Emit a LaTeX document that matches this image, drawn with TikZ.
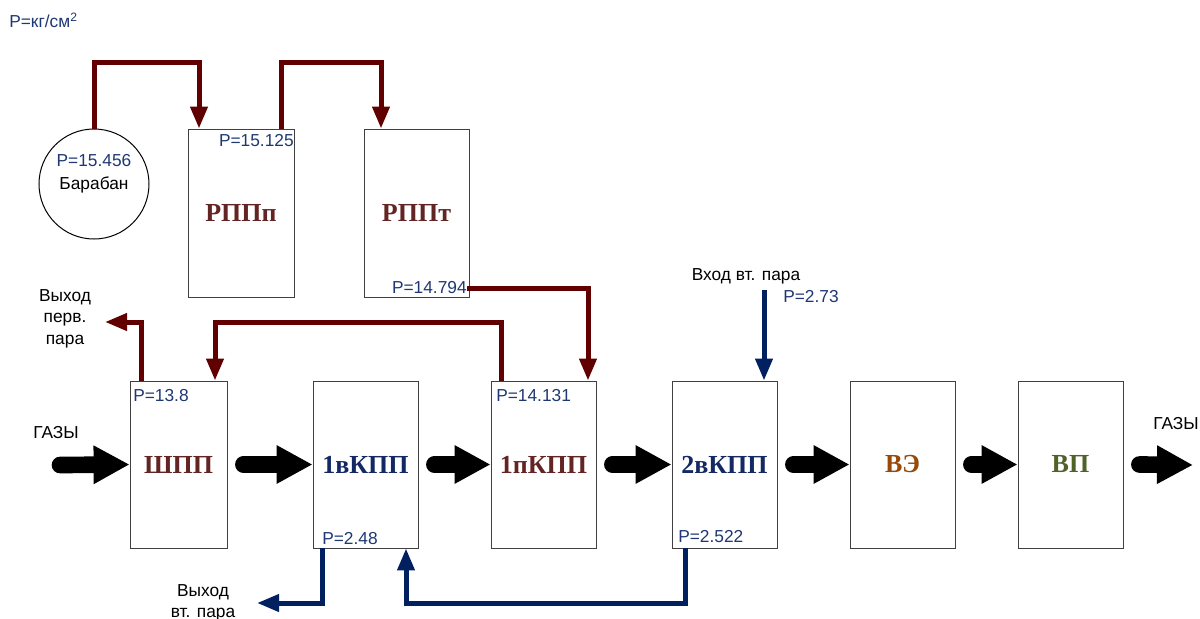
\documentclass[tikz,border=0pt]{standalone}
\usepackage{fontspec}
\setmainfont{Liberation Sans}
\newfontfamily\serifbf{Liberation Serif}
\usetikzlibrary{arrows.meta,calc}
\definecolor{pblue}{RGB}{31,56,115}
\definecolor{steamred}{RGB}{96,0,0}
\definecolor{steamblue}{RGB}{0,32,96}
\definecolor{lblbrown}{RGB}{99,37,35}
\definecolor{lblnavy}{RGB}{20,40,100}
\definecolor{lblorange}{RGB}{152,72,7}
\definecolor{lblgreen}{RGB}{79,98,40}
\tikzset{
  heater/.style={draw=black!75, line width=0.6pt, minimum width=78.75pt, minimum height=125.25pt, inner sep=0pt, font=\serifbf\bfseries\fontsize{19.5}{22}\selectfont},
  plabel/.style={text=pblue, inner sep=0pt, font=\fontsize{13}{15}\selectfont},
  note/.style={inner sep=0pt, align=center, font=\fontsize{13}{16}\selectfont},
  redflow/.style={draw=steamred, line width=3.75pt, -{Triangle[width=12.5pt,length=16.5pt]}},
  blueflow/.style={draw=steamblue, line width=3.75pt, -{Triangle[width=12.5pt,length=16.5pt]}},
  gas/.style={line width=12.5pt, line cap=round, -{Triangle[width=27pt,length=27pt]}}
}

\begin{document}
\begin{tikzpicture}[x=0.75pt,y=-0.75pt]
\useasboundingbox (0,0) rectangle (1200,618);

\node[plabel, anchor=west] (unit) at (9,20) {P=кг/см\textsuperscript{2}};

\node[draw, circle, line width=0.75pt, minimum size=82.5pt, inner sep=0pt] (drum) at (94,184) {};
\node[heater, minimum width=79.5pt, minimum height=126pt, text=lblbrown] (rppp) at (241,213) {РППп};
\node[heater, minimum height=126pt, text=lblbrown] (rppt) at (416.5,213) {РППт};

\node[heater, minimum width=72.75pt, text=lblbrown] (shpp) at (178.5,464.5) {ШПП};
\node[heater, text=lblnavy] (kpp1v) at (365.5,464.5) {1вКПП};
\node[heater, text=lblbrown] (kpp1p) at (543.5,464.5) {1пКПП};
\node[heater, text=lblnavy] (kpp2v) at (724.5,464.5) {2вКПП};
\node[heater, text=lblorange] (ve) at (902.5,464.5) {ВЭ};
\node[heater, text=lblgreen] (vp) at (1070.5,464.5) {ВП};

\node[plabel] (p1) at (94,161) {P=15.456};
\node[note] (drumlbl) at (94,185) {Барабан};
\node[plabel, anchor=east] (p2) at (294,141) {P=15.125};
\node[plabel, anchor=east] (p3) at (467,288) {P=14.794};
\node[plabel, anchor=west] (p5) at (133,396) {P=13.8};
\node[plabel, anchor=west] (p6) at (496,396) {P=14.131};
\node[plabel, anchor=west] (p7) at (322,539) {P=2.48};
\node[plabel, anchor=west] (p8) at (678,537) {P=2.522};
\node[plabel, anchor=west] (p9) at (783,297) {P=2.73};

\node[note] (outp) at (65,318.5) {Выход\\перв.\\пара};
\node[note] (outv) at (203,603) {Выход\\вт. пара};
\node[note] (inlbl) at (746,276) {Вход вт. пара};
\node[note] (gasl) at (56,433) {ГАЗЫ};
\node[note] (gasr) at (1176,424) {ГАЗЫ};

\coordinate (outperv) at (105,322);
\coordinate (inv) at (764,290);
\coordinate (outvt) at (257,603);
\coordinate (gasin) at (60,465);
\coordinate (gasout) at (1193,465);

\draw[redflow] (drum.north) |- (199,62) -- (rppp.north -| 199,0);
\draw[redflow] (rppp.north -| 281,0) |- (381,62) -- (rppt.north -| 381,0);
\draw[redflow] (p3.east) -| (kpp1p.north -| 588,0);
\draw[redflow] (kpp1p.north -| 501,0) |- (215,322) -- (shpp.north -| 215,0);
\draw[redflow] (shpp.north -| 141,0) |- (outperv);

\draw[blueflow] (inv) -- (kpp2v.north -| 764,0);
\draw[blueflow] (kpp1v.south -| 322,0) |- (outvt);
\draw[blueflow] (kpp2v.south -| 685,0) |- (406,603) -- (kpp1v.south -| 406,0);

\draw[gas] (gasin) -- (shpp.west);
\draw[gas] ([xshift=12pt]shpp.east) -- (kpp1v.west);
\draw[gas] ([xshift=12pt]kpp1v.east) -- (kpp1p.west);
\draw[gas] ([xshift=12pt]kpp1p.east) -- (kpp2v.west);
\draw[gas] ([xshift=12pt]kpp2v.east) -- (ve.west);
\draw[gas] ([xshift=12pt]ve.east) -- (vp.west);
\draw[gas] ([xshift=12pt]vp.east) -- (gasout);
\end{tikzpicture}
\end{document}
